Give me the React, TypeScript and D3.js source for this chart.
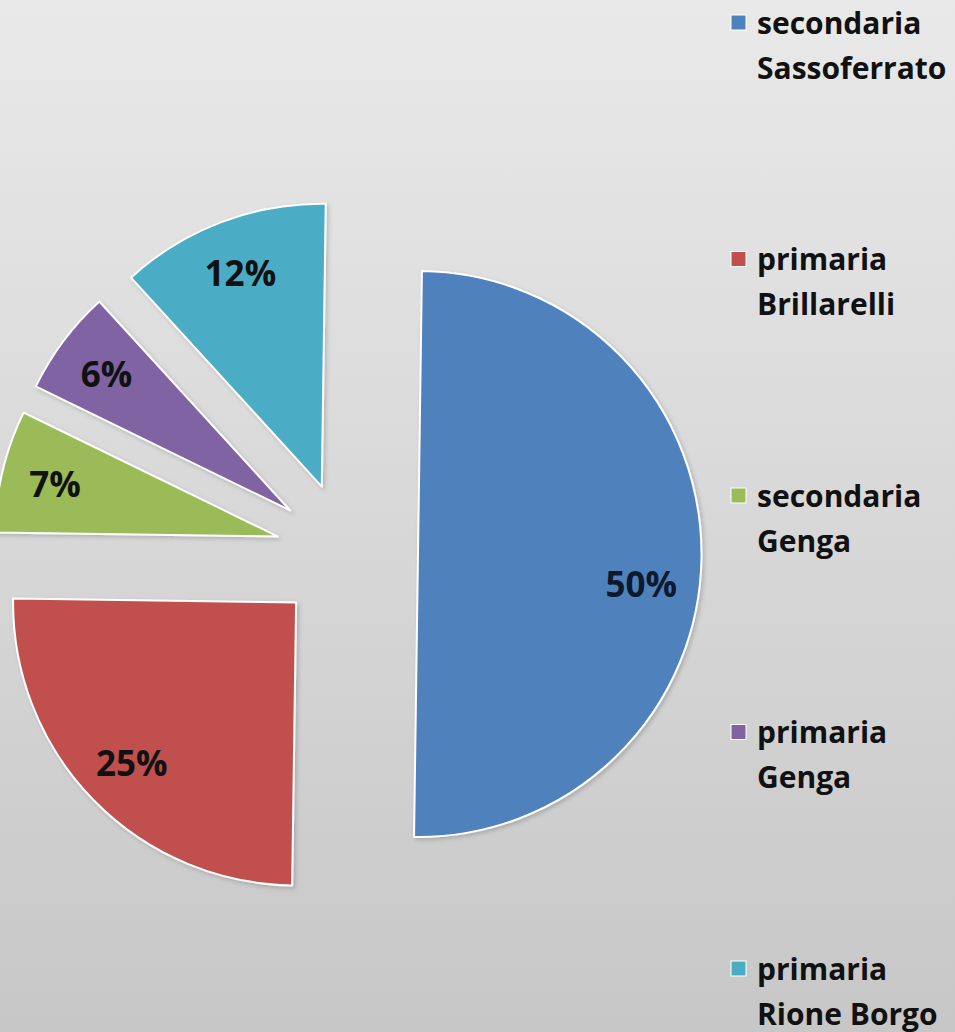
import { useEffect, useRef } from 'react';
import * as d3 from 'd3';

// legend labels, each split on two lines like the original
const categories = [
  ['secondaria', 'Sassoferrato'],
  ['primaria', 'Brillarelli'],
  ['secondaria', 'Genga'],
  ['primaria', 'Genga'],
  ['primaria', 'Rione Borgo'],
];
const values = [50, 25, 7, 6, 12];
const colors = ['#4f81bd', '#c0504d', '#9bbb59', '#8064a2', '#4bacc6'];

function App() {
  const svgRef = useRef<SVGSVGElement>(null);

  useEffect(() => {
    document.body.style.margin = '0';
    if (!svgRef.current) return;

    const svg = d3.select(svgRef.current);
    svg.selectAll('*').remove();

    const width = 955;
    const height = 1032;
    svg.attr('width', width).attr('height', height);

    const defs = svg.append('defs');
    const grad = defs.append('linearGradient')
      .attr('id', 'bg')
      .attr('x1', 0).attr('y1', 0).attr('x2', 0).attr('y2', 1);
    grad.append('stop').attr('offset', '0%').attr('stop-color', '#e9e9e9');
    grad.append('stop').attr('offset', '100%').attr('stop-color', '#c7c7c7');

    const shadow = defs.append('filter').attr('id', 'shadow')
      .attr('x', '-10%').attr('y', '-10%').attr('width', '120%').attr('height', '120%');
    shadow.append('feDropShadow')
      .attr('dx', 2).attr('dy', 2).attr('stdDeviation', 2)
      .attr('flood-color', '#000').attr('flood-opacity', 0.18);

    svg.append('rect')
      .attr('width', width).attr('height', height)
      .attr('fill', 'url(#bg)');

    const cx = 347;
    const cy = 553;
    const radius = 283;
    const explode = 71;
    const rot = 0.8 * Math.PI / 180;

    const pie = d3.pie<number>()
      .value(v => v)
      .sort(null)
      .startAngle(rot)
      .endAngle(rot + 2 * Math.PI);

    const arc = d3.arc<d3.PieArcDatum<number>>()
      .innerRadius(0)
      .outerRadius(radius);

    const labelArc = d3.arc<d3.PieArcDatum<number>>()
      .innerRadius(radius * 0.81)
      .outerRadius(radius * 0.81);

    const total = d3.sum(values);

    const slices = svg.append('g')
      .attr('transform', `translate(${cx}, ${cy})`)
      .selectAll('g')
      .data(pie(values))
      .enter()
      .append('g')
      .attr('transform', d => {
        const mid = (d.startAngle + d.endAngle) / 2;
        return `translate(${explode * Math.sin(mid)}, ${-explode * Math.cos(mid)})`;
      });

    slices.append('path')
      .attr('d', arc)
      .attr('fill', (_, i) => colors[i])
      .attr('stroke', '#ffffff')
      .attr('stroke-width', 2)
      .attr('stroke-linejoin', 'round')
      .attr('filter', 'url(#shadow)');

    slices.append('text')
      .attr('transform', d => {
        const [x, y] = labelArc.centroid(d);
        // the big slice's label sits a little lower in the original
        return `translate(${x - (d.index === 0 ? 6 : 0)}, ${y + (d.index === 0 ? 26 : 0)})`;
      })
      .attr('text-anchor', 'middle')
      .attr('dominant-baseline', 'central')
      .attr('font-family', '"Open Sans", sans-serif')
      .attr('font-weight', 700)
      .attr('font-size', 35)
      .attr('fill', (_, i) => (i === 0 ? '#0d1a2e' : '#111111'))
      .text(d => `${Math.round((d.data / total) * 100)}%`);

    // legend
    const ly = d3.scaleLinear().domain([0, categories.length - 1]).range([22, 968]);
    const legend = svg.append('g')
      .selectAll('g')
      .data(categories)
      .enter()
      .append('g')
      .attr('transform', (_, i) => `translate(731, ${ly(i)})`);

    legend.append('rect')
      .attr('x', 0).attr('y', -7)
      .attr('width', 15).attr('height', 15)
      .attr('fill', (_, i) => colors[i])
      .attr('stroke', '#ffffff')
      .attr('stroke-width', 1);

    legend.each(function (lines) {
      const g = d3.select(this);
      lines.forEach((line, j) => {
        g.append('text')
          .attr('x', 26)
          .attr('y', j * 45)
          .attr('dominant-baseline', 'central')
          .attr('font-family', '"Open Sans", sans-serif')
          .attr('font-weight', 700)
          .attr('font-size', 30)
          .attr('fill', '#111111')
          .text(line);
      });
    });
  }, []);

  return <svg ref={svgRef} style={{ display: 'block' }} />;
}

export default App;
